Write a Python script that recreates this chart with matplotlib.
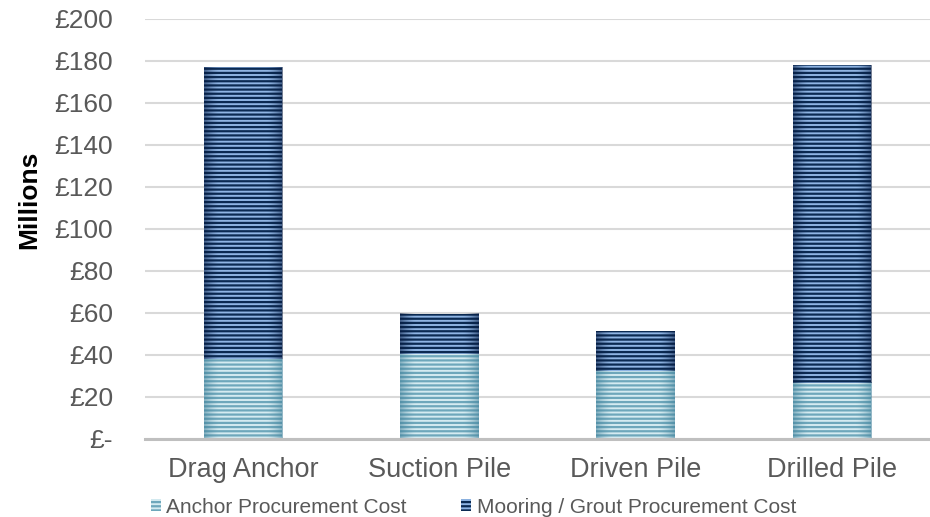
import matplotlib
matplotlib.use("Agg")
import numpy as np
from matplotlib import pyplot as plt
from matplotlib.patches import Patch
from matplotlib.ticker import FuncFormatter

# anchor type cost breakdown, £ millions
categories = ["Drag Anchor", "Suction Pile", "Driven Pile", "Drilled Pile"]
anchor_cost = [38, 40.3, 32.5, 26.8]
mooring_cost = [139, 19.2, 19, 151.3]
series_names = ["Anchor Procurement Cost", "Mooring / Grout Procurement Cost"]

plt.rcParams["font.family"] = ["Liberation Sans", "DejaVu Sans"]
plt.rcParams["hatch.linewidth"] = 1.6

light_face, light_stripe = "#d5ebf1", "#6ea7bb"
dark_face, dark_stripe = "#8fb5e4", "#0b2a52"
grey_txt = "#595959"
bar_w = 0.4

fig = plt.figure(figsize=(9.3, 5.17), dpi=100)
ax = fig.add_axes([145 / 930, 1 - 439 / 517, 785 / 930, 420 / 517])

x = np.arange(len(categories))
ax.bar(x, anchor_cost, width=bar_w, color=light_face, edgecolor=light_stripe,
       hatch="----", linewidth=0, zorder=2)
ax.bar(x, mooring_cost, width=bar_w, bottom=anchor_cost, color=dark_face,
       edgecolor=dark_stripe, hatch="----", linewidth=0, zorder=2)

# darker shading towards the left and right edge of each bar
u = np.linspace(-1, 1, 80)
shade = np.clip((np.abs(u) - 0.6) / 0.4, 0, 1) ** 1.5
for xi, a, m in zip(x, anchor_cost, mooring_cost):
    for bot, h, col in [(0, a, (0.25, 0.5, 0.6)), (a, m, (0.02, 0.1, 0.25))]:
        rgba = np.zeros((1, len(u), 4))
        rgba[..., :3] = col
        rgba[..., 3] = shade * 0.55
        ax.imshow(rgba, extent=(xi - bar_w / 2, xi + bar_w / 2, bot, bot + h),
                  aspect="auto", interpolation="bilinear", zorder=2.5)

ax.set_xlim(-0.5, 3.5)
ax.set_ylim(0, 200)
ax.set_yticks(range(0, 201, 20))
ax.yaxis.set_major_formatter(FuncFormatter(lambda v, p: "£-" if v == 0 else f"£{int(v)}"))
ax.set_xticks(x)
ax.set_xticklabels(categories)

ax.grid(axis="y", color="#d9d9d9", linewidth=1.5, zorder=0)
for side in ["top", "right", "left"]:
    ax.spines[side].set_visible(False)
ax.spines["bottom"].set_color("#bfbfbf")
ax.spines["bottom"].set_linewidth(2.2)
ax.spines["bottom"].set_zorder(3)

ax.tick_params(axis="y", length=0, pad=23, labelsize=19, labelcolor=grey_txt)
ax.tick_params(axis="x", length=0, pad=13, labelsize=19.5, labelcolor=grey_txt)

fig.text(29 / 930, 1 - 200 / 517, "Millions", rotation=90, fontsize=19,
         fontweight="bold", ha="center", va="center")

handles = [
    Patch(facecolor=light_face, edgecolor=light_stripe, hatch="----", linewidth=0),
    Patch(facecolor=dark_face, edgecolor=dark_stripe, hatch="----", linewidth=0),
]
fig.legend(handles, series_names, loc="center", bbox_to_anchor=(0.509, 0.019),
           ncol=2, frameon=False, fontsize=15, labelcolor=grey_txt,
           handlelength=0.5, handleheight=0.5, handletextpad=0.25,
           columnspacing=2.6, borderpad=0, borderaxespad=0)

fig.savefig("out.png", dpi=100)
